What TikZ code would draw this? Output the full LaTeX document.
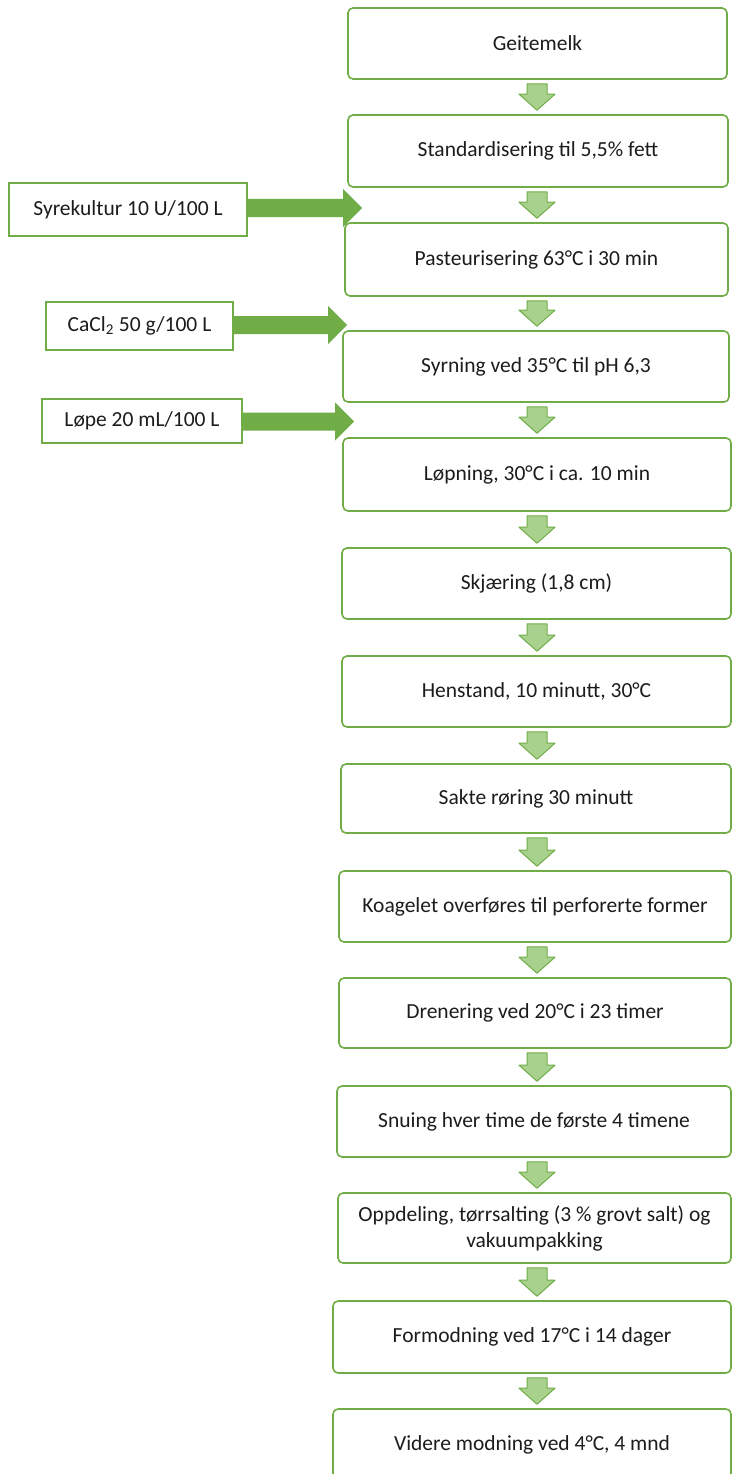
\documentclass[tikz,border=0pt]{standalone}
\usepackage{fontspec}
\setmainfont{Carlito}
\usepackage{tikz}
\usetikzlibrary{calc}
\definecolor{ngreen}{HTML}{70AD47}
\definecolor{nlightgreen}{HTML}{A9D18E}
\definecolor{ntext}{HTML}{1C1C1C}
% block arrow between two steps (drawn on a fixed column ax)
\newcommand{\downblock}[2]{%
 \path (#1.south -| ax) ++(0,4) coordinate (p) (#2.north -| ax) ++(0,-4) coordinate (q);
 \filldraw[downarr] ($(p)+(-10,0)$) -- ($(p)+(10,0)$) -- ($(q)+(10,-16)$) -- ($(q)+(18,-16)$)
   -- (q) -- ($(q)+(-18,-16)$) -- ($(q)+(-10,-16)$) -- cycle;}
% block arrow from an additive box to a tip coordinate
\newcommand{\sideblock}[2]{%
 \path (#1.east |- #2) coordinate (p);
 \fill[sidearr] ($(p)+(0,-9)$) -- ($(#2)+(-19,-9)$) -- ($(#2)+(-19,-19)$) -- (#2)
   -- ($(#2)+(-19,19)$) -- ($(#2)+(-19,9)$) -- ($(p)+(0,9)$) -- cycle;}

\begin{document}
\begin{tikzpicture}[x=1pt, y=-1pt,
 stepbox/.style={draw=ngreen, line width=1.6pt, rounded corners=5pt, fill=white, align=center,
   text=ntext, inner sep=0pt, font=\fontsize{21.5}{26}\selectfont},
 addbox/.style={stepbox, rounded corners=0pt},
 downarr/.style={draw=ngreen, fill=nlightgreen, line width=1pt, line join=round},
 sidearr/.style={fill=ngreen}]
 \fill[white] (0,0) rectangle (732,1474);
 \useasboundingbox (0,0) rectangle (732,1474);
 \coordinate (ax) at (537,0);
 % main steps
 \node[stepbox, minimum width=379pt, minimum height=71pt] (s1) at (537.5,43.5) {Geitemelk};
 \node[stepbox, minimum width=380pt, minimum height=72pt] (s2) at (538,151) {Standardisering til 5,5\% fett};
 \node[stepbox, minimum width=383pt, minimum height=73pt] (s3) at (536.5,259.5) {Pasteurisering 63°C i 30 min};
 \node[stepbox, minimum width=386pt, minimum height=71pt] (s4) at (536,366.5) {Syrning ved 35°C til pH 6,3};
 \node[stepbox, minimum width=388pt, minimum height=73pt] (s5) at (537,474.5) {Løpning, 30°C i ca. 10 min};
 \node[stepbox, minimum width=389pt, minimum height=71pt] (s6) at (536.5,583.5) {Skjæring (1,8 cm)};
 \node[stepbox, minimum width=389pt, minimum height=71pt] (s7) at (536.5,691.5) {Henstand, 10 minutt, 30°C};
 \node[stepbox, minimum width=390pt, minimum height=69pt] (s8) at (536,798.5) {Sakte røring 30 minutt};
 \node[stepbox, minimum width=392pt, minimum height=71pt] (s9) at (535,906.5) {Koagelet overføres til perforerte former};
 \node[stepbox, minimum width=392pt, minimum height=70pt] (s10) at (535,1013) {Drenering ved 20°C i 23 timer};
 \node[stepbox, minimum width=394pt, minimum height=71pt] (s11) at (534,1121.5) {Snuing hver time de første 4 timene};
 \node[stepbox, minimum width=393pt, minimum height=70pt] (s12) at (534.5,1228) {Oppdeling, tørrsalting (3 \% grovt salt) og\\vakuumpakking};
 \node[stepbox, minimum width=398pt, minimum height=72pt] (s13) at (532,1337) {Formodning ved 17°C i 14 dager};
 \node[stepbox, minimum width=398pt, minimum height=71pt] (s14) at (532,1444.5) {Videre modning ved 4°C, 4 mnd};
 \foreach \i [count=\j from 2] in {1,...,13} \downblock{s\i}{s\j};
 % additives
 \node[addbox, minimum width=238pt, minimum height=53pt] (k1) at (128,209.5) {Syrekultur 10 U/100 L};
 \node[addbox, minimum width=187pt, minimum height=48pt] (k2) at (139.5,326) {CaCl\textsubscript{2} 50 g/100 L};
 \node[addbox, minimum width=200pt, minimum height=44pt] (k3) at (142,421) {Løpe 20 mL/100 L};
 \coordinate (t1) at (362,208);
 \coordinate (t2) at (347,325);
 \coordinate (t3) at (354,421.5);
 \sideblock{k1}{t1}
 \sideblock{k2}{t2}
 \sideblock{k3}{t3}
\end{tikzpicture}
\end{document}
